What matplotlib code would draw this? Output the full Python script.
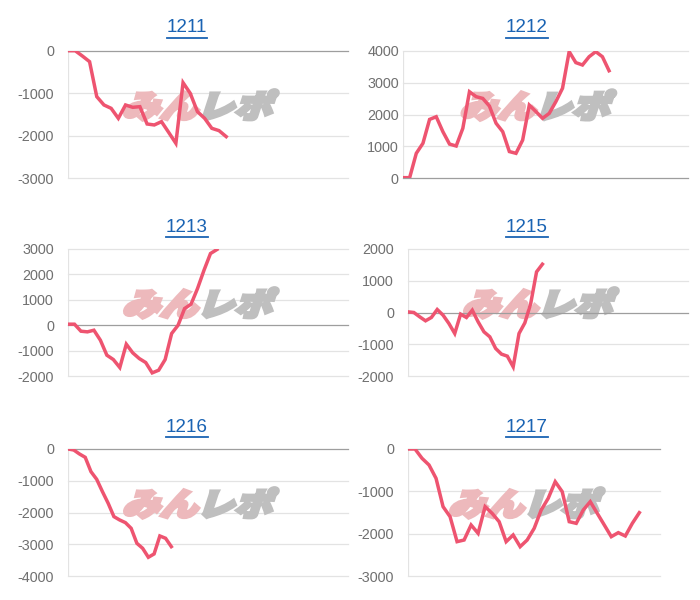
import matplotlib
matplotlib.use("Agg")
import matplotlib.pyplot as plt
import numpy as np
from matplotlib.textpath import TextPath
from matplotlib.patches import PathPatch
from matplotlib.font_manager import FontProperties
from matplotlib.transforms import Affine2D
from matplotlib.lines import Line2D

plt.rcParams['font.family'] = ['Liberation Sans', 'DejaVu Sans']
plt.rcParams['axes.unicode_minus'] = False

# machine numbers
titulos = ["1211", "1212", "1213", "1215", "1216", "1217"]

# balance per machine
s1211 = [0, 0, -125, -258, -1080, -1276, -1355, -1590, -1276, -1331, -1316,
         -1723, -1746, -1668, -1920, -2177, -752, -1002, -1433, -1590, -1825,
         -1879, -2020]
s1212 = [20, 20, 785, 1100, 1850, 1935, 1465, 1075, 1015, 1570, 2720, 2565,
         2510, 2270, 1730, 1465, 840, 785, 1200, 2300, 2095, 1885, 2040, 2410,
         2830, 3980, 3635, 3560, 3820, 3980, 3820, 3380]
s1213 = [40, 40, -236, -262, -197, -590, -1181, -1352, -1667, -748, -1089,
         -1312, -1470, -1877, -1772, -1352, -328, 0, 656, 827, 1444, 2165,
         2822, 2980]
s1215 = [20, 0, -136, -262, -157, 94, -84, -346, -661, -52, -157, 73, -294,
         -609, -766, -1133, -1312, -1375, -1710, -661, -325, 283, 1280, 1521]
s1216 = [0, -31, -157, -262, -713, -955, -1343, -1710, -2130, -2235, -2319,
         -2497, -2970, -3127, -3410, -3305, -2739, -2812, -3075]
s1217 = [0, 0, -220, -378, -693, -1362, -1598, -2189, -2150, -1795, -1992,
         -1362, -1520, -1717, -2189, -2031, -2307, -2150, -1874, -1441, -1165,
         -772, -1008, -1717, -1756, -1441, -1244, -1520, -1795, -2071, -1976,
         -2055, -1756, -1504]
series = [s1211, s1212, s1213, s1215, s1216, s1217]

# y ticks per panel
ticks = [
    [-3000, -2000, -1000, 0],
    [0, 1000, 2000, 3000, 4000],
    [-2000, -1000, 0, 1000, 2000, 3000],
    [-2000, -1000, 0, 1000, 2000],
    [-4000, -3000, -2000, -1000, 0],
    [-3000, -2000, -1000, 0],
]

# layout in pixels: left, right, top, bottom, title x, title y, label pad
W, H = 700, 600
cajas = [
    (68, 348, 50.7, 178.3, 187, 28, 10),
    (403, 688, 51, 178.3, 527, 28, 3),
    (68, 348, 249, 376, 187, 227, 10),
    (408, 688, 249, 376, 527, 227, 10),
    (68, 348, 449, 576, 187, 427, 10),
    (408, 660, 449, 576, 527, 427, 10),
]
# fraction of axis width covered by the line
fin = [0.565, 0.723, 0.532, 0.48, 0.369, 0.918]

color_linea = "#EE5470"
color_titulo = "#1A63B3"

fig = plt.figure(figsize=(7, 6), dpi=100)
fp_jp = FontProperties(family="Noto Sans CJK JP", weight="heavy")


def marca_agua(ax, cx, cy):
    # stylised "みんレポ" logo, slanted
    p1 = TextPath((0, 0), "みん", size=35, prop=fp_jp)
    p2 = TextPath((0, 0), "レポ", size=35, prop=fp_jp)
    w1 = p1.get_extents().x1
    w2 = p2.get_extents().x1
    total = (w1 + w2) * 1.08
    base = Affine2D().scale(1.08, 0.9).skew_deg(18, 0)
    x0 = cx - total / 2 - 6
    t1 = base + Affine2D().translate(x0, cy - 13)
    t2 = base + Affine2D().translate(x0 + w1 * 1.08, cy - 13)
    ax.add_patch(PathPatch(p1, transform=t1, facecolor="#EDB9BC", edgecolor="#EDB9BC",
                           lw=2.6, joinstyle="miter", zorder=1, clip_on=False))
    ax.add_patch(PathPatch(p2, transform=t2, facecolor="#BFBFBF", edgecolor="#BFBFBF",
                           lw=2.6, joinstyle="miter", zorder=1, clip_on=False))


axes = []
for i, (l, r, t, b, tx, ty, pad) in enumerate(cajas):
    ax = fig.add_axes([l / W, 1 - b / H, (r - l) / W, (b - t) / H])
    axes.append(ax)
    datos = series[i]
    x = np.arange(len(datos))
    ax.plot(x, datos, color=color_linea, lw=2.5, zorder=3, solid_joinstyle="miter")
    ax.set_xlim(0, (len(datos) - 1) / fin[i])
    ax.set_ylim(min(ticks[i]), max(ticks[i]))
    ax.set_yticks(ticks[i])
    ax.set_yticklabels([str(v) for v in ticks[i]])
    ax.set_xticks([])
    for v in ticks[i]:
        c = "#9E9E9E" if v == 0 else "#E3E3E3"
        ax.axhline(v, color=c, lw=0.9, zorder=2 if v == 0 else 0.5, clip_on=False)
    for s in ax.spines.values():
        s.set_visible(False)
    ax.axvline(0, color="#E3E3E3", lw=0.9, zorder=0.5)
    ax.tick_params(axis="y", length=0, pad=pad, labelsize=10.4, labelcolor="#707070")
    ax.set_facecolor("none")

fig.canvas.draw()
for i, ax in enumerate(axes):
    l, r, t, b, tx, ty, pad = cajas[i]
    marca_agua(ax, (l + r) / 2 - 6, H - (t + b) / 2 + 10)
    fig.text(tx / W, 1 - ty / H, titulos[i], ha="center", va="center",
             fontsize=13.6, color=color_titulo)

fig.canvas.draw()
rend = fig.canvas.get_renderer()
for txt in fig.texts[:]:
    ext = txt.get_window_extent(rend)
    yl = ext.y0 - 1.5
    fig.add_artist(Line2D([ext.x0 / W, ext.x1 / W], [yl / H, yl / H],
                          transform=fig.transFigure, color=color_titulo, lw=1.3))

fig.savefig("out.png", dpi=100, facecolor="white")
